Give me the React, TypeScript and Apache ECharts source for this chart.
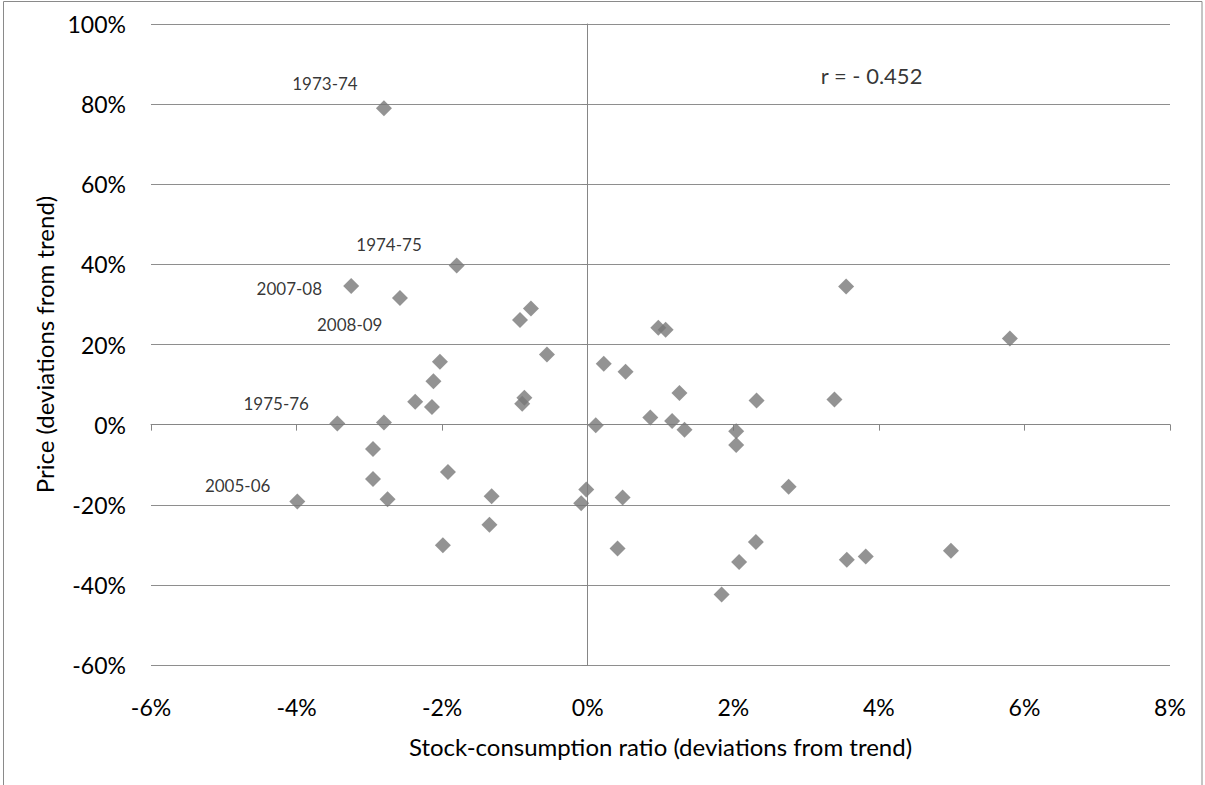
import React, { useEffect, useRef } from "react";
import * as echarts from "echarts";

// Stock-consumption ratio (deviations from trend), %
const stockRatio = [
  -2.8, -1.8, -3.25, -2.58, -0.93, -0.78, -0.56, -2.03, -2.12, -2.37, -2.14, -0.87, -0.9,
  -3.44, -2.8, 0.11, -2.95, -1.92, -2.95, -3.99, -2.75, -1.32, -1.35, -0.02, -0.09, -1.99,
  0.97, 1.07, 0.22, 0.52, 1.26, 2.32, 3.39, 0.86, 1.16, 1.33, 2.04, 2.04, 2.76, 0.48, 0.41,
  2.31, 2.08, 3.56, 3.82, 4.99, 1.84, 3.55, 5.8,
];
// Price (deviations from trend), %
const price = [
  79.0, 39.7, 34.6, 31.6, 26.1, 29.0, 17.5, 15.7, 10.8, 5.7, 4.4, 6.7, 5.2,
  0.25, 0.5, -0.15, -6.1, -11.8, -13.6, -19.2, -18.6, -17.9, -25.0, -16.2, -19.6, -30.1,
  24.2, 23.7, 15.2, 13.2, 7.9, 6.0, 6.3, 1.75, 0.9, -1.3, -1.65, -5.1, -15.5, -18.2, -30.9,
  -29.3, -34.3, -33.7, -32.9, -31.5, -42.4, 34.5, 21.5,
];

// Annotation labels (placed in data coordinates)
const annotationNames = ["1973-74", "1974-75", "2007-08", "2008-09", "1975-76", "2005-06"];
const annotationX = [-3.61, -2.73, -4.1, -3.27, -4.28, -4.81];
const annotationY = [85.1, 44.9, 34.1, 25.1, 5.2, -15.3];

const corrText = "r = - 0.452";
const corrPos = [3.9, 87.1];

const xMin = -6, xMax = 8, xStep = 2;
const yMin = -60, yMax = 100, yStep = 20;

const xTitle = "Stock-consumption ratio (deviations from trend)";
const yTitle = "Price (deviations from trend)";

const FONT = "Lato, 'Open Sans', sans-serif";

export default function App() {
  const ref = useRef<HTMLDivElement>(null);
  useEffect(() => {
    if (!ref.current) return;
    const chart = echarts.init(ref.current, null, { renderer: "svg" });
    const points = stockRatio.map((x, i) => [x, price[i]]);
    const notes = annotationNames.map((n, i) => ({ name: n, value: [annotationX[i], annotationY[i]] }));
    const axisColor = "#868686";
    const gridColor = "#8e8e8e";
    chart.setOption({
      animation: false,
      backgroundColor: "#ffffff",
      textStyle: { fontFamily: FONT },
      graphic: [
        {
          type: "rect",
          shape: { x: 3.5, y: 1.5, width: 1198.5, height: 800 },
          style: { fill: "none", stroke: "#8a8a8a", lineWidth: 1 },
          silent: true,
        },
      ],
      grid: { left: 151, right: 35, top: 24, bottom: 120, containLabel: false },
      xAxis: [
        {
          type: "value",
          min: xMin,
          max: xMax,
          interval: xStep,
          position: "bottom",
          axisLine: { show: false, onZero: false },
          axisTick: { show: false },
          splitLine: { show: false },
          axisLabel: {
            formatter: (v: number) => `${v}%`,
            color: "#000",
            fontSize: 23,
            fontFamily: FONT,
            margin: 30,
          },
          name: xTitle,
          nameLocation: "middle",
          nameGap: 69,
          nameTextStyle: { color: "#000", fontSize: 24, fontFamily: FONT },
        },
        {
          type: "value",
          min: xMin,
          max: xMax,
          interval: xStep,
          position: "bottom",
          axisLine: { show: true, onZero: true, onZeroAxisIndex: 0, lineStyle: { color: axisColor, width: 1 } },
          axisTick: { show: true, length: 6, lineStyle: { color: axisColor } },
          axisLabel: { show: false },
          splitLine: { show: false },
        },
      ],
      yAxis: [
        {
          type: "value",
          min: yMin,
          max: yMax,
          interval: yStep,
          position: "left",
          axisLine: { show: false, onZero: false },
          axisTick: { show: false },
          splitLine: { show: true, lineStyle: { color: gridColor, width: 1 } },
          axisLabel: {
            formatter: (v: number) => `${v}%`,
            color: "#000",
            fontSize: 23,
            fontFamily: FONT,
            margin: 25,
          },
          name: yTitle,
          nameLocation: "middle",
          nameGap: 95,
          nameRotate: 90,
          nameTextStyle: { color: "#000", fontSize: 24, fontFamily: FONT },
        },
        {
          type: "value",
          min: yMin,
          max: yMax,
          interval: yStep,
          position: "left",
          axisLine: { show: true, onZero: true, onZeroAxisIndex: 0, lineStyle: { color: axisColor, width: 1 } },
          axisTick: { show: true, length: 6, lineStyle: { color: axisColor } },
          axisLabel: { show: false },
          splitLine: { show: false },
        },
      ],
      series: [
        {
          type: "scatter",
          name: "Price vs stock-consumption",
          xAxisIndex: 0,
          yAxisIndex: 0,
          symbol: "diamond",
          symbolSize: 16,
          itemStyle: { color: "#787878" },
          data: points,
          silent: true,
        },
        {
          type: "scatter",
          name: "labels",
          xAxisIndex: 0,
          yAxisIndex: 0,
          symbolSize: 1,
          itemStyle: { color: "transparent" },
          silent: true,
          label: {
            show: true,
            position: "inside",
            formatter: "{b}",
            color: "#000",
            fontSize: 17,
            fontFamily: FONT,
          },
          data: [
            ...notes,
            { name: corrText, value: corrPos, label: { fontSize: 22 } },
          ],
        },
      ],
    });
    return () => chart.dispose();
  }, []);
  return (
    <div
      ref={ref}
      style={{ position: "absolute", left: 0, top: 0, width: 1205, height: 785 }}
    />
  );
}
